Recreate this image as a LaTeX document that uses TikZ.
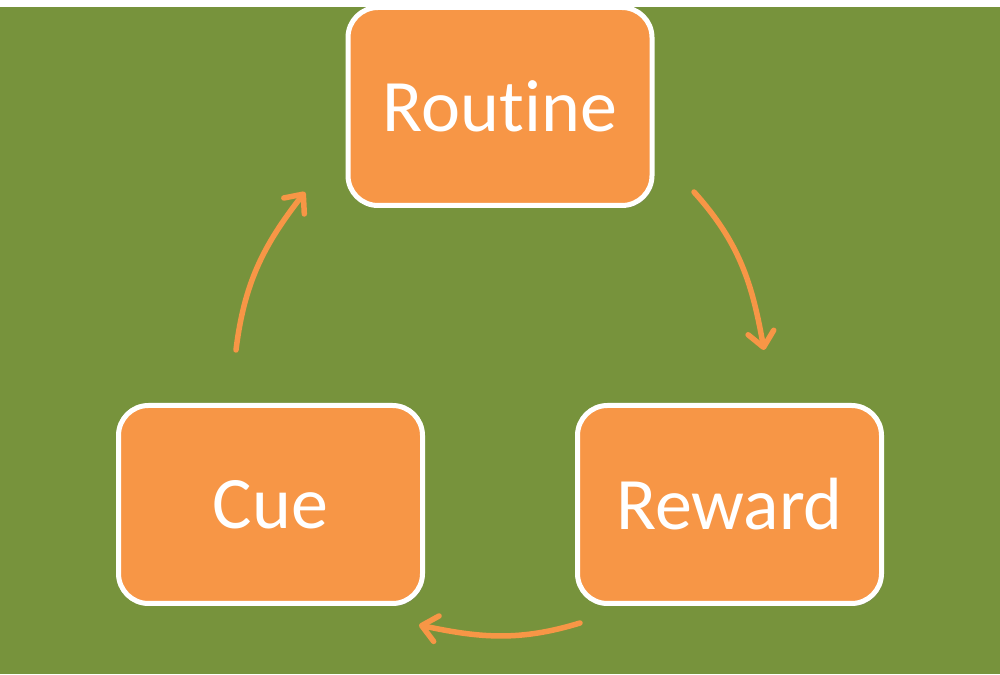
\documentclass[tikz,border=0pt]{standalone}
\usepackage{fontspec}
\setmainfont{Carlito}[Ligatures={NoCommon,NoDiscretionary,NoRare}]
\usetikzlibrary{arrows.meta,shadows}
\definecolor{habitorange}{HTML}{F79646}
\definecolor{habitgreen}{HTML}{77933C}
\begin{document}
\begin{tikzpicture}[x=1pt,y=1pt]
        \tikzstyle{habit}=[rectangle,rounded corners=30pt,line width=5pt,draw=white,fill=habitorange,text=white,
          minimum width=304pt,minimum height=198pt,font=\fontsize{74}{88}\selectfont,
          drop shadow={shadow xshift=2pt,shadow yshift=-2.5pt,opacity=0.35}]
        \tikzstyle{edge}=[draw=habitorange,line width=5.5pt,line cap=round,-{Straight Barb[length=15pt,width=26pt,line cap=round,line join=round]}]
       \begin{scope}
         \useasboundingbox (0,0) rectangle (1000,674);
         \fill[white] (0,0) rectangle (1000,674);
         \fill[habitgreen] (0,0) rectangle (1000,667);

         \node [habit] (routine) at (500,567.5) {Routine};
         \node [habit] (cue) at (270.5,169.5) {Cue};
         \node [habit] (reward) at (729.5,169.5) {Reward};

         \coordinate (cue out) at (236,324);
         \coordinate (routine in) at (305,482);
         \coordinate (routine out) at (694,482);
         \coordinate (reward in) at (764,324);
         \coordinate (reward out) at (580,51);
         \coordinate (cue in) at (419,49);

         \path[edge] (cue out) to [out=83,in=232] (routine in);
         \path[edge] (routine out) to [out=-48,in=100] (reward in);
         \path[edge] (reward out) to [out=197,in=-12] (cue in);
        \end{scope}
      \end{tikzpicture}
\end{document}
